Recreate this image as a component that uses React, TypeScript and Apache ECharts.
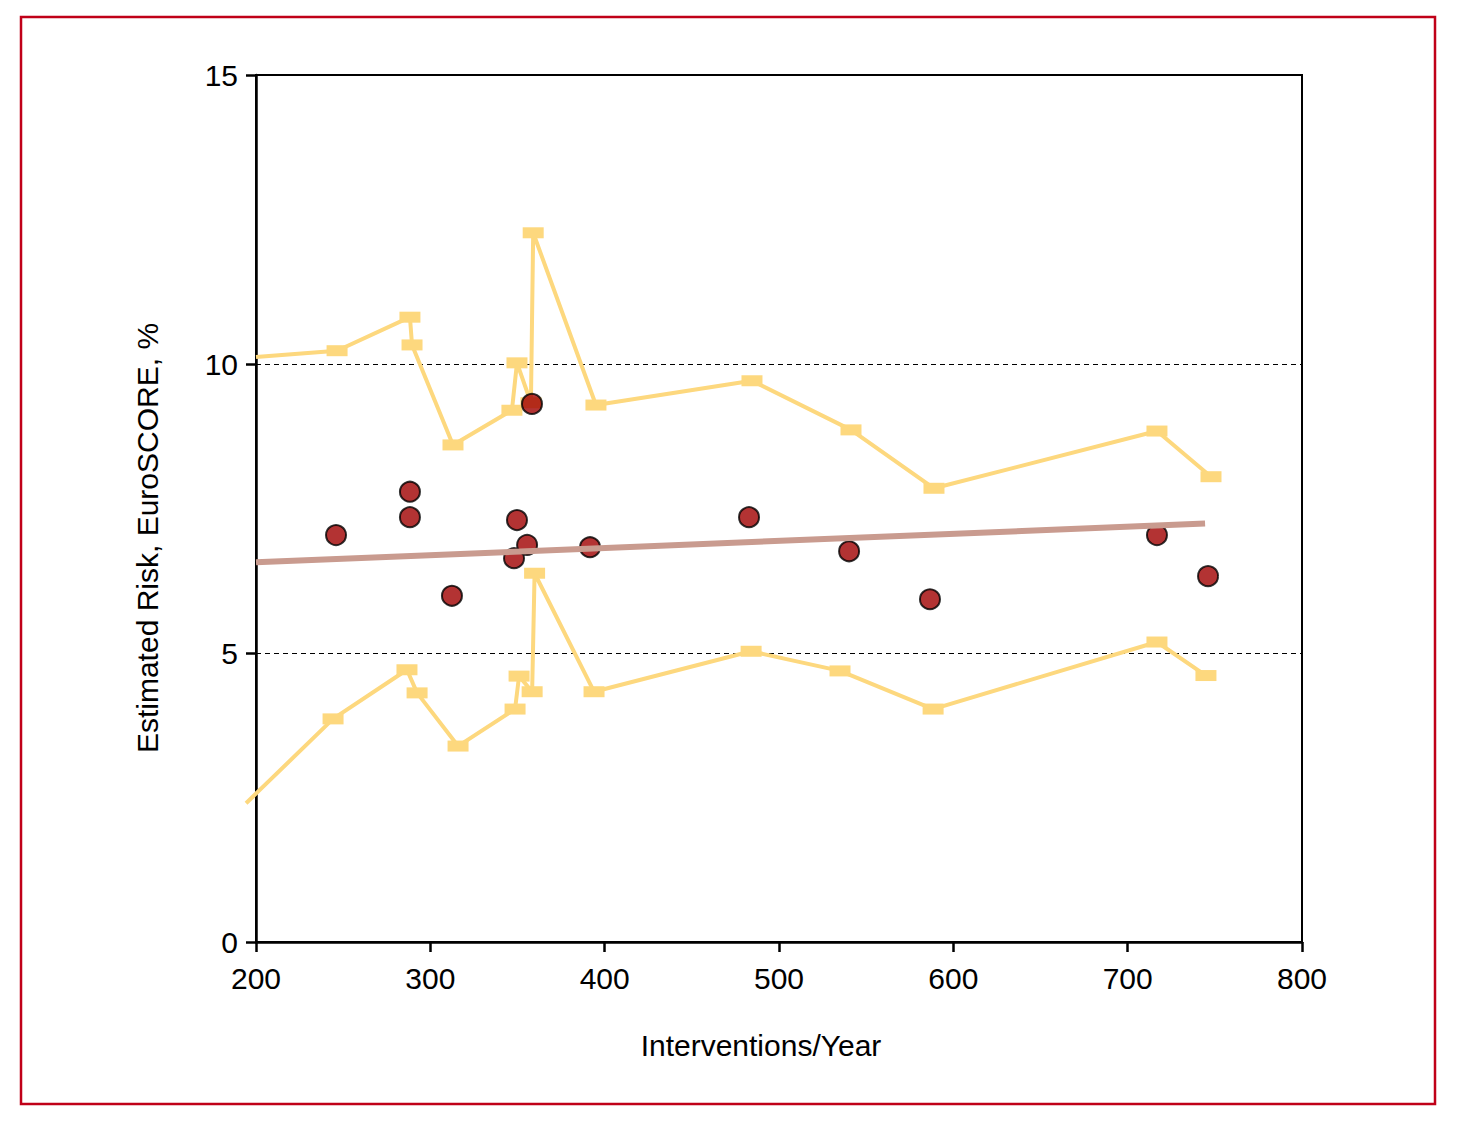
import React, { useEffect, useRef } from "react";
import * as echarts from "echarts";

const xTicks = [200, 300, 400, 500, 600, 700, 800];
const yTicks = [0, 5, 10, 15];
const xTitle = "Interventions/Year";
const yTitle = "Estimated Risk, EuroSCORE, %";

// Observed centres: [interventions/year, estimated risk %]
const centres: [number, number][] = [
  [245.9, 7.04],
  [288.3, 7.79],
  [288.3, 7.35],
  [312.4, 5.99],
  [349.7, 7.3],
  [348.0, 6.64],
  [355.5, 6.87],
  [358.3, 9.31],
  [391.6, 6.83],
  [482.8, 7.35],
  [540.2, 6.76],
  [586.6, 5.93],
  [716.8, 7.04],
  [746.1, 6.33],
];

// Upper confidence limit (first point is the line start, no marker)
const upperLimit: [number, number][] = [
  [200, 10.12],
  [246.5, 10.23],
  [288.3, 10.81],
  [289.5, 10.33],
  [313.0, 8.6],
  [346.8, 9.2],
  [349.7, 10.02],
  [357.7, 9.33],
  [359.0, 12.27],
  [395.0, 9.29],
  [484.5, 9.71],
  [541.3, 8.86],
  [588.9, 7.85],
  [716.8, 8.84],
  [747.8, 8.05],
];

// Lower confidence limit (first point is the line start, no marker)
const lowerLimit: [number, number][] = [
  [194.3, 2.4],
  [244.2, 3.86],
  [286.6, 4.71],
  [292.4, 4.31],
  [315.9, 3.39],
  [348.6, 4.03],
  [350.9, 4.6],
  [358.4, 4.33],
  [359.8, 6.38],
  [393.9, 4.33],
  [484.0, 5.03],
  [535.0, 4.69],
  [588.4, 4.03],
  [716.8, 5.19],
  [744.9, 4.61],
];

// Regression line end points
const regression: [number, number][] = [
  [200, 6.57],
  [744.4, 7.24],
];

const FONT = "'Liberation Sans', Arial, sans-serif";
const FS = 30;
const BAND = "#fdd87e";

// plot geometry
const LEFT = 256;
const RIGHT_EDGE = 1302;
const X_MIN = xTicks[0];
const X_MAX = xTicks[xTicks.length - 1];
const PX_PER_UNIT = (RIGHT_EDGE - LEFT) / (X_MAX - X_MIN);
const X_MIN_WIDE = 190; // wider hidden axis so the lower limit can start left of 200
const LEFT_WIDE = LEFT - (X_MIN - X_MIN_WIDE) * PX_PER_UNIT;

function bandData(pts: [number, number][]) {
  return pts.map((p, i) =>
    i === 0 ? { value: p, symbol: "none" } : { value: p }
  );
}

export default function App() {
  const ref = useRef<HTMLDivElement>(null);

  useEffect(() => {
    if (!ref.current) return;
    const chart = echarts.init(ref.current, null, { renderer: "svg" });
    const bandSeries = (pts: [number, number][]) => ({
      type: "line",
      xAxisIndex: 1,
      yAxisIndex: 1,
      data: bandData(pts),
      clip: false,
      symbol: "rect",
      symbolSize: [21, 11],
      showAllSymbol: true,
      lineStyle: { color: BAND, width: 4 },
      itemStyle: { color: BAND },
      z: 2,
    });
    chart.setOption({
      animation: false,
      backgroundColor: "#ffffff",
      textStyle: { fontFamily: FONT },
      graphic: [
        {
          type: "rect",
          shape: { x: 21, y: 17, width: 1414, height: 1087 },
          style: { fill: "none", stroke: "#c00018", lineWidth: 2.5 },
          z: 0,
        },
        {
          type: "text",
          x: 761,
          y: 1045,
          style: {
            text: xTitle,
            font: `${FS}px ${FONT}`,
            fill: "#000",
            textAlign: "center",
            textVerticalAlign: "middle",
          },
        },
        {
          type: "text",
          x: 147,
          y: 538,
          rotation: Math.PI / 2,
          style: {
            text: yTitle,
            font: `${FS}px ${FONT}`,
            fill: "#000",
            textAlign: "center",
            textVerticalAlign: "middle",
          },
        },
      ],
      grid: [
        {
          left: LEFT,
          top: 75,
          right: 155,
          bottom: 186,
          show: true,
          borderColor: "#000",
          borderWidth: 2,
          backgroundColor: "transparent",
        },
        {
          left: LEFT_WIDE,
          top: 75,
          right: 155,
          bottom: 186,
          show: false,
        },
      ],
      xAxis: [
        {
          type: "value",
          gridIndex: 0,
          min: X_MIN,
          max: X_MAX,
          interval: 100,
          axisLine: { show: true, lineStyle: { color: "#000", width: 2.5 } },
          axisTick: { show: true, length: 10, lineStyle: { color: "#000", width: 2.5 } },
          axisLabel: { fontFamily: FONT, fontSize: FS, color: "#000", margin: 21 },
          splitLine: { show: false },
        },
        {
          type: "value",
          gridIndex: 1,
          min: X_MIN_WIDE,
          max: X_MAX,
          show: false,
        },
      ],
      yAxis: [
        {
          type: "value",
          gridIndex: 0,
          min: yTicks[0],
          max: yTicks[yTicks.length - 1],
          interval: 5,
          axisLine: { show: true, lineStyle: { color: "#000", width: 2.5 } },
          axisTick: { show: true, length: 10, lineStyle: { color: "#000", width: 2.5 } },
          axisLabel: { fontFamily: FONT, fontSize: FS, color: "#000", margin: 18 },
          splitLine: { show: true, lineStyle: { color: "#000", width: 1, type: [5, 4] } },
        },
        {
          type: "value",
          gridIndex: 1,
          min: yTicks[0],
          max: yTicks[yTicks.length - 1],
          show: false,
        },
      ],
      series: [
        bandSeries(upperLimit),
        bandSeries(lowerLimit),
        {
          type: "scatter",
          data: centres,
          symbol: "circle",
          symbolSize: 20,
          itemStyle: { color: "#a00000", borderColor: "#000", borderWidth: 2 },
          z: 3,
        },
        {
          type: "line",
          data: regression,
          symbol: "none",
          lineStyle: { color: "#c99b8f", width: 6 },
          z: 4,
        },
      ],
    });
    return () => chart.dispose();
  }, []);

  return (
    <div
      ref={ref}
      style={{ position: "fixed", left: 0, top: 0, width: 1457, height: 1128 }}
    />
  );
}
